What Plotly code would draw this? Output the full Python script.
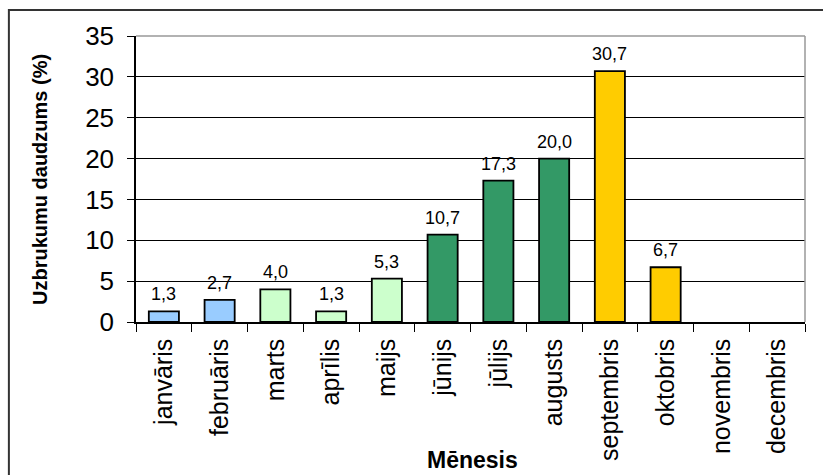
import plotly.graph_objects as go

# Monthly share of attacks (%)
months = ["janvāris", "februāris", "marts", "aprīlis", "maijs", "jūnijs",
          "jūlijs", "augusts", "septembris", "oktobris", "novembris", "decembris"]
values = [1.3, 2.7, 4.0, 1.3, 5.3, 10.7, 17.3, 20.0, 30.7, 6.7, 0.0, 0.0]
season_colors = ["#99CCFF", "#99CCFF",             # winter
                 "#CCFFCC", "#CCFFCC", "#CCFFCC",  # spring
                 "#339966", "#339966", "#339966",  # summer
                 "#FFCC00", "#FFCC00", "#FFCC00",  # autumn
                 "#99CCFF"]
y_ticks = [0, 5, 10, 15, 20, 25, 30, 35]

FONT = "Arial, Liberation Sans, sans-serif"

# empty months get no outline
edge_widths = [1.8 if v > 0 else 0 for v in values]

fig = go.Figure(go.Bar(
    x=months,
    y=values,
    marker=dict(color=season_colors, line=dict(color="black", width=edge_widths)),
    hoverinfo="skip",
))

# value labels above non-zero bars (decimal comma)
for m, v in zip(months, values):
    if v > 0:
        fig.add_annotation(
            x=m, y=v, xref="x", yref="y",
            text=f"{v:.1f}".replace(".", ","),
            showarrow=False, yanchor="bottom", yshift=5,
            font=dict(family=FONT, size=18, color="black"),
        )

# axis titles
fig.add_annotation(
    x=-0.1435, y=0.5, xref="paper", yref="paper",
    text="<b>Uzbrukumu daudzums (%)</b>", textangle=-90,
    showarrow=False, xanchor="center", yanchor="middle",
    font=dict(family=FONT, size=20, color="black"),
)
fig.add_annotation(
    x=0.503, y=-0.4825, xref="paper", yref="paper",
    text="<b>Mēnesis</b>",
    showarrow=False, xanchor="center", yanchor="middle",
    font=dict(family=FONT, size=23, color="black"),
)

# grey plot-area frame on the top and right
fig.add_shape(type="line", xref="paper", yref="paper", x0=0, x1=1, y0=1, y1=1,
              line=dict(color="#999999", width=1.5), layer="above")
fig.add_shape(type="line", xref="paper", yref="paper", x0=1, x1=1, y0=0, y1=1,
              line=dict(color="#999999", width=1.5), layer="above")
# outer chart border
fig.add_shape(type="rect", xref="paper", yref="paper",
              x0=-0.19, x1=1.04, y0=-0.56, y1=1.0909,
              line=dict(color="#333333", width=2), layer="below")

fig.update_layout(
    width=823, height=475,
    margin=dict(l=136, r=18, t=36, b=153),
    paper_bgcolor="white", plot_bgcolor="white",
    bargap=0.46,
    showlegend=False,
    font=dict(family=FONT, color="black"),
    xaxis=dict(
        type="category", tickangle=-90, automargin=False,
        ticks="outside", ticklen=8, tickcolor="black", tickwidth=1,
        tickson="boundaries", ticklabelstandoff=5,
        showline=True, linecolor="black", linewidth=1.5,
        showgrid=False,
        tickfont=dict(family=FONT, size=25, color="black"),
    ),
    yaxis=dict(
        range=[0, 35], tickvals=y_ticks, automargin=False,
        ticks="outside", ticklen=7, tickcolor="black", tickwidth=1,
        ticklabelstandoff=8,
        showline=True, linecolor="black", linewidth=1.5,
        showgrid=True, gridcolor="black", gridwidth=1,
        zeroline=False,
        tickfont=dict(family=FONT, size=26, color="black"),
    ),
)

fig.write_html("out.html")
